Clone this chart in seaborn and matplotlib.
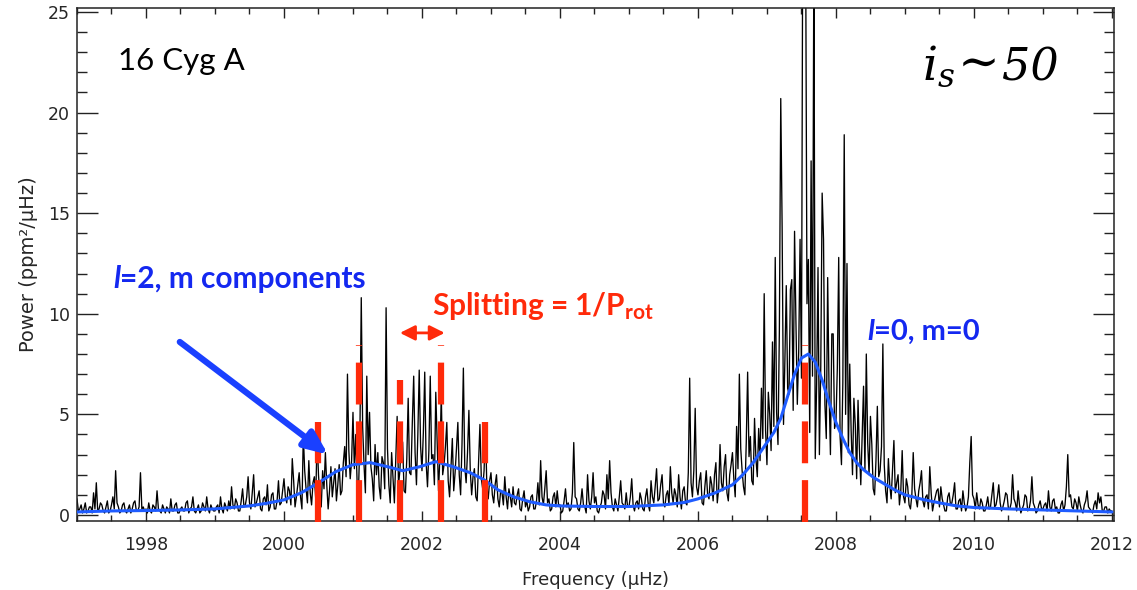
import numpy as np
import pandas as pd
import matplotlib
matplotlib.use("Agg")
import matplotlib.pyplot as plt
from matplotlib.ticker import MultipleLocator
import seaborn as sns

# ---------------------------------------------------------------
# 16 Cyg A power spectrum around the l=2 / l=0 pair
# one list per microhertz, sampled every 0.02 µHz
# ---------------------------------------------------------------
bin_width = 0.02
start_freq = 1997.0

power_1997 = [0.8, 0.2, 0.3, 0.5, 0.1, 0.3, 0.6, 0.1, 0.2, 0.4, 0.4, 0.1, 1.1, 0.3, 1.6, 0.2, 0.3, 0.6, 0.5, 0.2,
              0.1, 0.4, 0.7, 0.1, 0.2, 0.5, 0.9, 0.3, 2.2, 0.6, 0.4, 0.1, 0.2, 0.5, 0.6, 0.2, 0.1, 0.3, 0.5, 0.1,
              0.3, 0.6, 0.7, 0.2, 0.2, 0.4, 2.1, 0.3, 0.4, 0.2]
power_1998 = [0.3, 0.1, 0.6, 0.2, 0.1, 0.5, 0.4, 0.2, 1.2, 0.3, 0.2, 0.1, 0.5, 0.3, 0.1, 0.4, 0.3, 0.1, 0.8, 0.2,
              0.2, 0.5, 0.6, 0.1, 0.1, 0.3, 0.4, 0.2, 0.2, 0.6, 0.7, 0.1, 0.3, 0.4, 0.9, 0.2, 0.1, 0.3, 0.5, 0.1,
              0.2, 0.6, 0.4, 0.2, 0.9, 0.3, 0.1, 0.5, 0.3, 0.2]
power_1999 = [0.2, 0.4, 0.5, 0.1, 0.9, 0.3, 0.1, 0.6, 0.4, 0.2, 0.7, 0.3, 1.4, 0.5, 0.3, 0.8, 0.6, 0.2, 0.2, 0.7,
              1.3, 0.4, 0.5, 0.9, 1.9, 0.6, 0.3, 1.1, 2.0, 0.4, 0.6, 0.9, 1.2, 0.3, 0.2, 0.8, 0.9, 0.5, 1.5, 0.2,
              0.4, 1.0, 1.1, 0.3, 0.3, 0.7, 1.7, 0.5, 0.6, 1.2]
power_2000 = [1.8, 0.9, 0.6, 1.4, 1.2, 0.5, 2.8, 1.7, 0.4, 0.9, 1.5, 2.1, 0.9, 0.3, 4.0, 2.2, 1.3, 0.6, 2.7, 1.1,
              0.5, 1.6, 1.9, 0.8, 3.9, 2.0, 1.0, 0.4, 2.2, 1.3, 3.1, 1.5, 0.3, 1.2, 2.4, 0.9, 1.6, 2.3, 0.7, 1.5,
              2.5, 1.0, 1.2, 2.6, 3.4, 1.9, 7.0, 3.2, 1.8, 2.7]
power_2001 = [5.1, 2.3, 4.0, 1.6, 1.2, 3.8, 10.8, 4.4, 2.5, 1.1, 6.9, 3.0, 5.1, 2.4, 1.8, 0.7, 3.5, 2.0, 3.1, 1.4,
              0.8, 2.9, 2.6, 1.3, 10.3, 3.3, 1.5, 0.6, 3.1, 1.8, 0.6, 2.7, 4.9, 1.5, 2.2, 3.9, 3.6, 1.2, 1.1, 2.8,
              5.8, 2.1, 2.0, 4.6, 6.9, 3.1, 1.5, 4.0, 7.2, 3.4]
power_2002 = [2.2, 4.1, 7.1, 2.6, 1.4, 3.2, 6.9, 2.8, 3.0, 1.5, 6.1, 3.7, 1.2, 2.9, 6.0, 2.0, 2.5, 3.4, 4.6, 1.7,
              0.9, 2.4, 3.8, 1.2, 2.1, 3.3, 4.6, 2.0, 1.0, 3.5, 7.3, 2.4, 1.6, 3.1, 5.2, 2.2, 1.0, 1.9, 2.3, 0.9,
              0.7, 2.6, 4.5, 1.8, 1.3, 2.2, 4.5, 1.4, 0.8, 1.7]
power_2003 = [2.1, 1.0, 0.6, 1.5, 2.0, 0.8, 0.4, 1.2, 1.1, 0.5, 1.9, 0.9, 0.3, 1.3, 0.9, 0.4, 1.4, 0.6, 0.5, 1.0,
              1.3, 0.3, 0.2, 0.8, 1.2, 0.4, 0.7, 0.2, 0.4, 0.9, 1.0, 0.3, 0.3, 0.7, 1.6, 0.5, 2.7, 0.9, 0.5, 1.3,
              2.2, 0.6, 0.8, 0.2, 0.3, 0.9, 1.1, 0.4, 1.2, 0.5]
power_2004 = [0.5, 0.1, 0.2, 0.7, 1.3, 0.4, 0.6, 0.2, 0.3, 1.1, 3.6, 0.9, 0.8, 0.3, 0.2, 0.6, 1.3, 0.5, 0.4, 0.1,
              2.0, 0.7, 0.3, 0.9, 2.1, 0.6, 0.9, 0.2, 0.1, 0.4, 0.6, 1.2, 1.0, 0.3, 2.0, 0.8, 2.7, 1.1, 0.4, 0.2,
              0.8, 0.5, 0.2, 0.9, 1.7, 0.6, 0.5, 0.3, 1.1, 0.4]
power_2005 = [0.4, 0.9, 1.8, 0.5, 0.2, 0.6, 0.7, 0.3, 1.1, 0.8, 0.3, 0.2, 0.9, 1.3, 0.5, 0.2, 1.7, 0.9, 0.6, 1.4,
              2.3, 0.7, 0.8, 1.5, 2.0, 0.6, 0.4, 1.0, 1.2, 0.5, 2.4, 1.1, 0.6, 1.3, 1.0, 0.4, 2.0, 0.9, 0.3, 1.2,
              1.4, 0.6, 0.5, 2.1, 6.8, 1.6, 0.9, 2.2, 5.3, 1.4]
power_2006 = [1.0, 1.7, 2.1, 0.6, 0.5, 1.4, 2.2, 1.0, 0.8, 1.9, 1.5, 0.7, 2.0, 2.6, 0.6, 1.3, 3.5, 1.6, 1.2, 2.4,
              3.0, 1.1, 0.7, 2.0, 2.5, 3.1, 1.8, 0.9, 4.4, 2.3, 7.0, 3.3, 2.2, 1.4, 1.0, 3.6, 7.1, 2.9, 3.9, 1.7,
              1.5, 4.8, 2.8, 1.9, 4.3, 2.7, 6.3, 3.8, 11.0, 4.2]
power_2007 = [2.5, 6.1, 5.0, 3.2, 8.6, 4.4, 12.8, 5.1, 3.5, 9.2, 20.7, 14.3, 4.5, 7.7, 11.4, 6.3, 6.0, 11.2, 11.7, 5.2,
              14.1, 9.6, 5.5, 8.1, 13.7, 6.8, 31.0, 29.0, 29.0, 10.5, 12.7, 4.1, 17.6, 6.9, 28.0, 2.8, 6.5, 12.3, 3.0, 7.4,
              16.0, 13.7, 5.5, 3.8, 11.8, 6.2, 3.0, 9.0, 9.0, 4.3]
power_2008 = [4.6, 7.3, 12.8, 3.9, 2.5, 6.6, 18.9, 5.0, 12.5, 3.1, 7.5, 4.2, 2.0, 5.8, 4.5, 1.8, 5.7, 3.3, 1.5, 4.0,
              6.4, 2.2, 8.0, 3.6, 2.0, 4.9, 3.5, 1.3, 1.0, 2.7, 5.4, 1.9, 2.2, 3.4, 8.5, 2.5, 1.2, 0.6, 2.8, 1.5,
              0.8, 2.3, 3.7, 1.1, 1.6, 2.0, 0.5, 1.2, 3.2, 0.9]
power_2009 = [0.6, 1.8, 1.4, 0.5, 0.3, 1.0, 3.1, 1.3, 0.8, 0.4, 1.2, 1.6, 2.2, 0.7, 0.4, 0.9, 1.0, 0.3, 2.4, 1.1,
              0.2, 0.6, 0.9, 1.2, 1.3, 0.4, 1.4, 0.8, 0.5, 0.2, 0.2, 0.9, 1.1, 0.5, 0.6, 1.0, 1.6, 0.3, 0.3, 0.7,
              0.8, 0.2, 1.2, 0.6, 0.2, 0.4, 0.9, 2.6, 3.9, 1.0]
power_2010 = [0.8, 0.3, 1.1, 0.5, 0.3, 0.8, 0.6, 0.2, 0.2, 0.5, 0.9, 0.3, 0.4, 1.0, 1.6, 0.4, 0.5, 0.9, 1.5, 0.6,
              0.2, 0.4, 0.7, 1.1, 1.0, 0.3, 0.3, 0.6, 2.0, 0.8, 0.6, 0.2, 1.2, 0.5, 0.1, 0.3, 0.5, 1.0, 0.9, 0.2,
              0.3, 0.7, 1.9, 0.6, 0.4, 0.1, 0.2, 0.5, 0.7, 0.3]
power_2011 = [0.3, 0.5, 0.6, 0.2, 1.2, 0.4, 0.2, 0.7, 0.8, 0.3, 0.4, 0.1, 0.1, 0.5, 0.7, 0.2, 0.5, 1.4, 3.0, 0.9,
              1.0, 0.4, 0.3, 0.8, 0.6, 0.2, 0.9, 0.5, 0.2, 0.1, 0.5, 0.7, 1.2, 0.4, 0.3, 0.2, 0.1, 0.5, 0.7, 0.3,
              1.1, 0.6, 0.9, 0.2, 0.2, 0.4, 0.4, 0.1, 0.3, 0.2]
power_2012 = [0.2]

# Lorentzian profile fit (l=2 multiplet and l=0 mode)
fit_freq = [1997.0, 1997.5, 1998.0, 1998.5, 1999.0, 1999.5, 1999.75, 2000.0, 2000.25,
            2000.5, 2000.75, 2001.0, 2001.25, 2001.5, 2001.72, 2001.97, 2002.2, 2002.45,
            2002.7, 2002.9, 2003.1, 2003.33, 2003.57, 2003.8, 2004.0, 2004.5, 2005.0,
            2005.5, 2005.8, 2006.0, 2006.25, 2006.5, 2006.65, 2006.8, 2006.9, 2007.0,
            2007.1, 2007.2, 2007.3, 2007.4, 2007.5, 2007.6, 2007.7, 2007.8, 2007.9,
            2008.0, 2008.1, 2008.2, 2008.3, 2008.4, 2008.55, 2008.7, 2008.85, 2009.0,
            2009.25, 2009.5, 2009.75, 2010.0, 2010.5, 2011.0, 2011.5, 2012.0]
fit_power = [0.15, 0.2, 0.22, 0.25, 0.3, 0.45, 0.58, 0.75, 1.1,
             1.6, 2.15, 2.5, 2.6, 2.4, 2.2, 2.4, 2.65, 2.4,
             2.1, 1.75, 1.25, 0.9, 0.65, 0.5, 0.45, 0.42, 0.42,
             0.5, 0.62, 0.8, 1.1, 1.5, 2.0, 2.6, 3.1, 3.6,
             4.1, 4.8, 5.9, 7.0, 7.8, 8.0, 7.6, 6.7, 5.6,
             4.6, 3.8, 3.1, 2.6, 2.25, 1.85, 1.55, 1.25, 1.0,
             0.78, 0.6, 0.45, 0.37, 0.3, 0.25, 0.2, 0.15]

# rotationally split m components and the radial mode
split_freq = [2000.49, 2001.09, 2001.68, 2002.28, 2002.91, 2007.55]
split_top = [4.6, 8.45, 6.7, 8.45, 4.6, 8.45]

x_ticks = [1998, 2000, 2002, 2004, 2006, 2008, 2010, 2012]
y_ticks = [0, 5, 10, 15, 20, 25]

# ---------------------------------------------------------------
power = (power_1997 + power_1998 + power_1999 + power_2000 + power_2001 +
         power_2002 + power_2003 + power_2004 + power_2005 + power_2006 +
         power_2007 + power_2008 + power_2009 + power_2010 + power_2011 +
         power_2012)
spec = pd.DataFrame({"freq": start_freq + bin_width * np.arange(len(power)),
                     "power": power})
fit = pd.DataFrame({"freq": fit_freq, "power": fit_power})

sns.set_theme(style="white")
plt.rcParams["font.family"] = ["DejaVu Sans"]
plt.rcParams["mathtext.fontset"] = "custom"
plt.rcParams["mathtext.it"] = "DejaVu Serif:italic"
plt.rcParams["mathtext.rm"] = "DejaVu Serif"
plt.rcParams["mathtext.bf"] = "Lato:bold"

RED = "#ff2a0a"
FIT_BLUE = "#1f5cff"
TXT_BLUE = "#1428f0"
ARROW_BLUE = "#1a40ff"

W, H = 1137, 590
fig = plt.figure(figsize=(W / 100, H / 100), dpi=100)
ax = fig.add_axes([77 / W, 1 - 521 / H, (1114 - 77) / W, (521 - 8) / H])

sns.lineplot(data=spec, x="freq", y="power", ax=ax, color="black",
             linewidth=0.95, estimator=None, sort=False, zorder=2)
sns.lineplot(data=fit, x="freq", y="power", ax=ax, color=FIT_BLUE,
             linewidth=2.2, estimator=None, sort=False, zorder=3)

ax.vlines(split_freq, -0.35, split_top, colors=RED, linewidth=4.5,
          linestyles=[(0, (6.7, 2.7))], zorder=4, clip_on=False)

ax.set_xlim(1997.0, 2012.03)
ax.set_ylim(-0.3, 25.2)
ax.set_xticks(x_ticks)
ax.set_yticks(y_ticks)
ax.xaxis.set_minor_locator(MultipleLocator(0.5))
ax.yaxis.set_minor_locator(MultipleLocator(1))
ax.tick_params(which="both", direction="in", top=True, right=True,
               bottom=True, left=True, color="#222222", width=1.0)
ax.tick_params(axis="x", which="major", length=7.2, pad=11, labelsize=12.5)
ax.tick_params(axis="x", which="minor", length=4.0)
ax.tick_params(axis="y", which="major", length=15, pad=5, labelsize=12.5)
ax.tick_params(axis="y", which="minor", length=7.5)
for s in ax.spines.values():
    s.set_color("#222222")
    s.set_linewidth(1.1)

ax.set_xlabel("Frequency (µHz)", fontsize=13, labelpad=12)
ax.set_ylabel("Power (ppm²/µHz)", fontsize=14, labelpad=7)

# annotations
ax.text(1997.59, 22.14, "16 Cyg A", fontsize=22.5, family="Lato",
        va="baseline", ha="left", color="black")
incl = ax.text(2009.25, 21.64, r"$i_s$", fontsize=34,
               va="baseline", ha="left", color="black")
tilde = ax.annotate("∼", xy=(1, 0), xycoords=incl, xytext=(2, 0),
                    textcoords="offset points", fontsize=36,
                    family="DejaVu Serif", color="black",
                    va="bottom", ha="left")
ax.annotate("50", xy=(1, 0), xycoords=incl, xytext=(34, 0),
            textcoords="offset points", fontsize=32,
            family="DejaVu Serif", fontstyle="italic", color="black",
            va="bottom", ha="left")

l2 = ax.text(1997.52, 11.3, "l", fontsize=21.5, family="Lato", fontweight="bold",
             fontstyle="italic", color=TXT_BLUE, va="baseline", ha="left")
ax.annotate("=2, m components", xy=(1, 0), xycoords=l2, fontsize=21.5,
            family="Lato", fontweight="bold", color=TXT_BLUE,
            va="bottom", ha="left")

l0 = ax.text(2008.45, 8.7, "l", fontsize=21, family="Lato", fontweight="bold",
             fontstyle="italic", color=TXT_BLUE, va="baseline", ha="left")
ax.annotate("=0, m=0", xy=(1, 0), xycoords=l0, fontsize=21,
            family="Lato", fontweight="bold", color=TXT_BLUE,
            va="bottom", ha="left")

ax.text(2002.14, 9.95, r"Splitting = 1/P$_{\mathbf{rot}}$", fontsize=21.5,
        family="Lato", fontweight="bold", color=RED, va="baseline", ha="left")

ax.annotate("", xy=(2002.33, 9.05), xytext=(2001.68, 9.05),
            arrowprops=dict(arrowstyle="<|-|>,head_length=0.6,head_width=0.3",
                            color=RED, lw=2.0, mutation_scale=15,
                            shrinkA=0, shrinkB=0), zorder=5)
ax.annotate("", xy=(2000.64, 3.0), xytext=(1998.49, 8.6),
            arrowprops=dict(arrowstyle="-|>,head_length=0.7,head_width=0.3",
                            color=ARROW_BLUE, lw=4.5, mutation_scale=20,
                            shrinkA=0, shrinkB=0), zorder=5)

fig.savefig("out.png", dpi=100)
